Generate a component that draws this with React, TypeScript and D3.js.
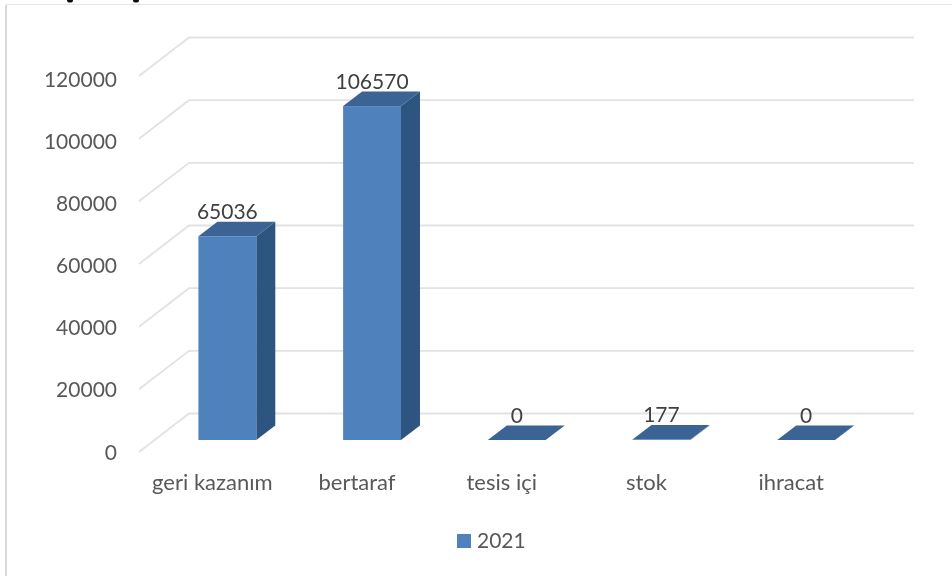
import { useEffect, useRef } from 'react';
import * as d3 from 'd3';

const categories = ['geri kazanım', 'bertaraf', 'tesis içi', 'stok', 'ihracat'];
const values = [65036, 106570, 0, 177, 0];
const valueLabels = ['65036', '106570', '0', '177', '0'];
const yTicks = [0, 20000, 40000, 60000, 80000, 100000, 120000];
const seriesName = '2021';
// x of the two unreadable scraps left of a cropped title line
const titleScraps = [70, 136];

const width = 952;
const height = 576;
const fontFamily = 'Lato, Carlito, sans-serif';

const depthX = 50;
const depthY = -38.5;

export default function App() {
	const svgRef = useRef<SVGSVGElement>(null);

	useEffect(() => {
		const svg = d3.select(svgRef.current);
		svg.selectAll('*').remove();

		// the reference is an upscaled screenshot, so everything is a little soft
		svg.append('defs')
			.append('filter')
			.attr('id', 'soft')
			.attr('filterUnits', 'userSpaceOnUse')
			.attr('x', 0)
			.attr('y', 0)
			.attr('width', width)
			.attr('height', height)
			.append('feGaussianBlur')
			.attr('stdDeviation', 0.45);

		const x = d3.scaleBand<string>()
			.domain(categories)
			.range([139, 862.5])
			.paddingInner(0.6)
			.paddingOuter(0.3);
		const y = d3.scaleLinear()
			.domain([0, 120000])
			.range([452, 76]);
		// axis labels sit slightly off the gridline ends
		const yLabel = d3.scaleLinear()
			.domain([0, 120000])
			.range([459.5, 87]);

		// frame of the pasted chart
		svg.append('path')
			.attr('d', 'M6,576V5')
			.attr('stroke', '#d9d9d9')
			.attr('stroke-width', 2);
		svg.append('path')
			.attr('d', 'M6,4.5H952')
			.attr('stroke', '#e6e6e6')
			.attr('stroke-width', 1.2);

		const chart = svg.append('g').attr('filter', 'url(#soft)');

		chart.append('g')
			.selectAll('ellipse')
			.data(titleScraps)
			.join('ellipse')
			.attr('cx', (d) => d)
			.attr('cy', 0.5)
			.attr('rx', 3)
			.attr('ry', 2)
			.attr('fill', '#111');

		// gridlines go along the side wall, then along the back wall
		chart.append('g')
			.selectAll('path')
			.data(yTicks)
			.join('path')
			.attr('d', (d) => {
				const p = d3.path();
				p.moveTo(139, y(d));
				p.lineTo(139 + depthX, y(d) + depthY);
				p.lineTo(864 + depthX, y(d) + depthY);
				return p.toString();
			})
			.attr('fill', 'none')
			.attr('stroke', '#e2e2e2')
			.attr('stroke-width', 1.8);

		// bars sit half way into the depth
		const shiftX = 16;
		const shiftY = -12;
		const barDx = 19;
		const barDy = -14.5;
		const bars = chart.append('g')
			.selectAll('g')
			.data(categories)
			.join('g')
			.attr('transform', (d) => `translate(${x(d)! + shiftX},${shiftY})`);

		bars.append('path')
			.attr('fill', '#2f5480')
			.attr('d', (_, i) => {
				const w = x.bandwidth();
				const top = y(values[i]);
				const bottom = y(0);
				return `M${w},${top}L${w + barDx},${top + barDy}L${w + barDx},${bottom + barDy}L${w},${bottom}Z`;
			});
		bars.append('path')
			.attr('fill', '#3b6494')
			.attr('d', (_, i) => {
				const w = x.bandwidth();
				const top = y(values[i]);
				return `M0,${top}L${barDx},${top + barDy}L${w + barDx},${top + barDy}L${w},${top}Z`;
			});
		bars.append('rect')
			.attr('fill', '#4f81bd')
			.attr('y', (_, i) => y(values[i]))
			.attr('width', x.bandwidth())
			.attr('height', (_, i) => y(0) - y(values[i]));

		const text = (cls: string, fill: string, size: number) =>
			chart.append('g')
				.attr('class', cls)
				.attr('font-family', fontFamily)
				.attr('font-size', size)
				.attr('fill', fill);

		text('y-ticks', '#595959', 21)
			.attr('text-anchor', 'end')
			.selectAll('text')
			.data(yTicks)
			.join('text')
			.attr('x', 117)
			.attr('y', (d) => yLabel(d))
			.text((d) => d3.format('d')(d));

		text('x-labels', '#595959', 22)
			.attr('text-anchor', 'middle')
			.selectAll('text')
			.data(categories)
			.join('text')
			.attr('x', (d) => x(d)! + x.bandwidth() / 2 + 1)
			.attr('y', 490)
			.text((d) => d);

		text('value-labels', '#404040', 21)
			.attr('text-anchor', 'middle')
			.selectAll('text')
			.data(categories)
			.join('text')
			.attr('x', (d) => x(d)! + x.bandwidth() / 2 + shiftX)
			.attr('y', (_, i) => y(values[i]) + shiftY - 17)
			.text((_, i) => valueLabels[i]);

		// legend
		chart.append('rect')
			.attr('x', 457)
			.attr('y', 534)
			.attr('width', 14)
			.attr('height', 14)
			.attr('fill', '#4f81bd');
		text('legend', '#595959', 21)
			.append('text')
			.attr('x', 477)
			.attr('y', 548)
			.text(seriesName);
	}, []);

	return (
		<svg
			ref={svgRef}
			width={width}
			height={height}
			style={{ position: 'fixed', left: 0, top: 0, background: '#fff' }}
		/>
	);
}
